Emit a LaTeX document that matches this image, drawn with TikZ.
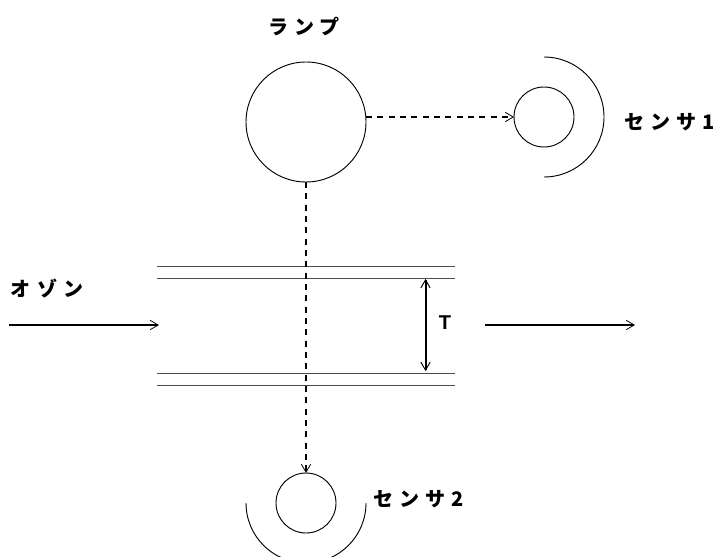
\documentclass[tikz,border=0pt]{standalone}
\usepackage{fontspec}
\usetikzlibrary{arrows.meta}
\setmainfont{Liberation Sans}
\newfontfamily\jpfont[LetterSpace=30]{Noto Sans CJK JP}
\newfontfamily\capfont{Liberation Sans}
\begin{document}
\begin{tikzpicture}[x=0.75pt,y=-0.75pt,
  every node/.style={inner sep=0pt,outer sep=0pt},
  dev/.style={draw,circle,line width=0.7pt},
  shell/.style={line width=0.7pt},
  tube/.style={draw=black!70,line width=0.75pt},
  flow/.style={line width=1.5pt,-{Straight Barb[length=6pt,width=7pt,line width=0.6pt]}},
  beam/.style={line width=1.3pt,dash pattern=on 4.5pt off 4pt,-{Straight Barb[length=6pt,width=7pt,line width=0.6pt]}},
  gauge/.style={line width=1.5pt,{Straight Barb[length=6pt,width=7pt,line width=0.7pt]}-{Straight Barb[length=6pt,width=7pt,line width=0.7pt]}},
  lab/.style={font=\jpfont\bfseries\fontsize{15pt}{17pt}\selectfont,text=black}]
\path[use as bounding box] (0,0) rectangle (716,556);
\clip (0,0) rectangle (716,556);
\node[dev,minimum size=90pt] (lamp) at (306,122) {};
\node[dev,minimum size=45pt] (s1) at (544,117) {};
\node[dev,minimum size=45pt] (s2) at (306,503) {};
\draw[shell] (544,57) arc[start angle=90,end angle=-90,radius=45pt];
\draw[shell] (246,503) arc[start angle=180,end angle=360,radius=45pt];
\coordinate (t1l) at (157,266); \coordinate (t1r) at (455,266);
\coordinate (t2l) at (157,278); \coordinate (t2r) at (455,278);
\coordinate (t3l) at (157,373); \coordinate (t3r) at (455,373);
\coordinate (t4l) at (157,385); \coordinate (t4r) at (455,385);
\draw[tube] (t1l) -- (t1r);
\draw[tube] (t2l) -- (t2r);
\draw[tube] (t3l) -- (t3r);
\draw[tube] (t4l) -- (t4r);
\coordinate (ina) at (9,325); \coordinate (inb) at (159,325);
\coordinate (outa) at (485,325); \coordinate (outb) at (635,325);
\coordinate (ga) at (425.5,279); \coordinate (gb) at (425.5,371);
\draw[flow] (ina) -- (inb);
\draw[flow] (outa) -- (outb);
\draw[gauge] (ga) -- (gb);
\draw[beam] (lamp.east |- s1.west) -- (s1.west);
\draw[beam] (lamp.south) -- (s2.north);
\node[lab,anchor=west] (lamplabel) at (268,27) {ランプ};
\node[lab,anchor=west] (ozone) at (11,289) {オゾン};
\node[lab,anchor=west] (s1label) at (624,122) {センサ1};
\node[lab,anchor=west] (s2label) at (373,499) {センサ2};
\node[font=\capfont\bfseries\fontsize{15pt}{17pt}\selectfont] (tlabel) at (445,323) {T};
\end{tikzpicture}
\end{document}
